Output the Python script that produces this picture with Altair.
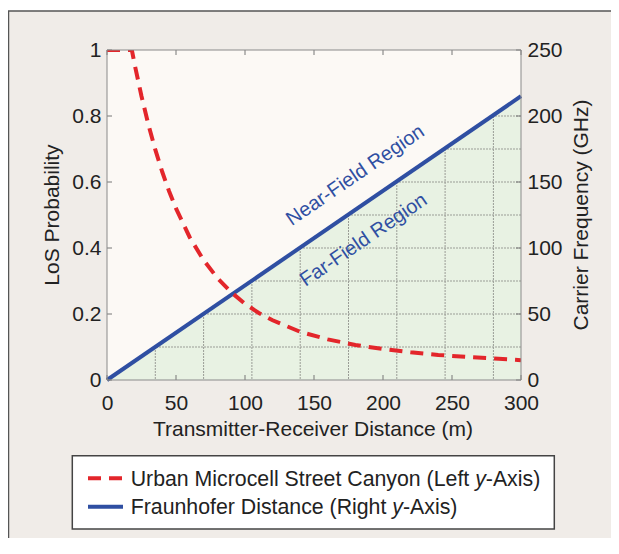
import altair as alt
import pandas as pd

# ---- data ----
los_dist = [0, 18, 20, 25, 30, 35, 40, 45, 50, 60, 70, 80, 90, 100, 110, 120,
            140, 160, 180, 200, 220, 240, 260, 280, 300]
los_prob = [1.0, 1.0, 0.957, 0.860, 0.774, 0.698, 0.631, 0.572, 0.520, 0.432,
            0.363, 0.309, 0.266, 0.231, 0.203, 0.181, 0.146, 0.123, 0.106,
            0.094, 0.084, 0.076, 0.070, 0.065, 0.060]
fr_dist = [0, 300]
fr_ghz = [0, 215]
grid_dist = [35, 70, 105, 140, 175, 210, 245, 280]
grid_ghz = [25, 50, 75, 100, 125, 150, 175, 200]
dist_ticks = [0, 50, 100, 150, 200, 250, 300]
prob_ticks = [0, 0.2, 0.4, 0.6, 0.8, 1]
ghz_ticks = [0, 50, 100, 150, 200, 250]
region_labels = ["Near-Field Region", "Far-Field Region"]
region_dist = [180, 186]
region_ghz = [155, 106]
legend_pre = ["Urban Microcell Street Canyon (Left", "Fraunhofer Distance (Right"]
legend_it = ["y", "y"]
legend_post = ["-Axis)", "-Axis)"]

# ---- styles ----
W, H = 414, 330
FONT = "Liberation Sans"
RED = "#e3262b"
BLUE = "#2f4fa2"
TXT = "#222222"
FRAME_BG = "#f0ece8"
PLOT_BG = "#fcf9f5"
GREEN = "#e8f2e3"
GRID = "#9a9d96"
TICK = "#777777"

df_los = pd.DataFrame({"dist": los_dist, "prob": los_prob})
df_fr = pd.DataFrame({"dist": fr_dist, "ghz": fr_ghz, "top": [250] * len(fr_dist)})
df_gx = pd.DataFrame({"dist": grid_dist})
df_gy = pd.DataFrame({"ghz": grid_ghz})
df_xt = pd.DataFrame({"dist": dist_ticks})
df_pt = pd.DataFrame({"prob": prob_ticks})
df_gt = pd.DataFrame({"ghz": ghz_ticks})
df_reg = pd.DataFrame({"dist": region_dist, "ghz": region_ghz, "label": region_labels})
one = pd.DataFrame({"k": [0]})

x_scale = alt.Scale(domain=[0, 300], nice=False, zero=False)
prob_scale = alt.Scale(domain=[0, 1], nice=False)
ghz_scale = alt.Scale(domain=[0, 250], nice=False)

common_axis = dict(title=None, ticks=False, domain=False, grid=False,
                   labelFontSize=21, labelFont=FONT, labelColor=TXT,
                   labelFlush=False, labelOverlap=False, zindex=1)
x_axis = alt.Axis(values=dist_ticks, labelPadding=12, **common_axis)
prob_axis = alt.Axis(orient="left", values=prob_ticks, format="~g", labelPadding=6, **common_axis)
ghz_axis = alt.Axis(orient="right", values=ghz_ticks, labelPadding=6, **common_axis)


def X(f):
    return alt.X(f, type="quantitative", scale=x_scale, axis=x_axis)


def YP(f):
    return alt.Y(f, type="quantitative", scale=prob_scale, axis=prob_axis)


def YG(f):
    return alt.Y(f, type="quantitative", scale=ghz_scale, axis=ghz_axis)


# ---- background frame and plot area ----
frame = alt.Chart(one).mark_rect(fill=FRAME_BG, stroke="#555555", strokeWidth=1.5).encode(
    x=alt.value(-98.5), x2=alt.value(700), y=alt.value(-39), y2=alt.value(700))
plot_bg = alt.Chart(one).mark_rect(fill=PLOT_BG).encode(
    x=alt.value(0), x2=alt.value(W), y=alt.value(0), y2=alt.value(H))

# ---- right-axis group (Fraunhofer) ----
green = alt.Chart(df_fr).mark_area(color=GREEN).encode(x=X("dist"), y=YG("ghz"))
vgrid = alt.Chart(df_gx).mark_rule(color=GRID, strokeWidth=1, strokeDash=[2, 1]).encode(x=X("dist"))
hgrid = alt.Chart(df_gy).mark_rule(color=GRID, strokeWidth=1, strokeDash=[2, 1]).encode(y=YG("ghz"))
cover = alt.Chart(df_fr).mark_area(color=PLOT_BG).encode(x=X("dist"), y=YG("ghz"), y2=alt.Y2("top"))
blue_line = alt.Chart(df_fr).mark_line(color=BLUE, strokeWidth=4).encode(x=X("dist"), y=YG("ghz"))
region_text = alt.Chart(df_reg).mark_text(
    angle=325.6, fontSize=20, font=FONT, color=BLUE, align="center", baseline="middle"
).encode(x=X("dist"), y=YG("ghz"), text="label:N")
top_ticks = alt.Chart(df_xt).mark_rule(color=TICK).encode(x=X("dist"), y=alt.value(0), y2=alt.value(5))
bot_ticks = alt.Chart(df_xt).mark_rule(color=TICK).encode(x=X("dist"), y=alt.value(H - 5), y2=alt.value(H))
right_ticks = alt.Chart(df_gt).mark_rule(color=TICK).encode(y=YG("ghz"), x=alt.value(W - 5), x2=alt.value(W))
right_group = alt.layer(green, vgrid, hgrid, cover, blue_line, region_text,
                        top_ticks, bot_ticks, right_ticks)

# ---- left-axis group (LoS probability) ----
red_line = alt.Chart(df_los).mark_line(
    color=RED, strokeWidth=4, strokeDash=[13, 8], clip=True
).encode(x=X("dist"), y=YP("prob"))
left_ticks = alt.Chart(df_pt).mark_rule(color=TICK).encode(y=YP("prob"), x=alt.value(0), x2=alt.value(5))
left_group = alt.layer(left_ticks, red_line)

border = alt.Chart(one).mark_rect(fillOpacity=0, stroke="#8a8a8a", strokeWidth=1).encode(
    x=alt.value(0), x2=alt.value(W), y=alt.value(0), y2=alt.value(H))

# ---- axis titles ----
tstyle = dict(fontSize=21, font=FONT, color=TXT, align="center")
x_title = alt.Chart(one).mark_text(text="Transmitter-Receiver Distance (m)", baseline="alphabetic", **tstyle).encode(
    x=alt.value(206), y=alt.value(386))
l_title = alt.Chart(one).mark_text(text="LoS Probability", angle=270, baseline="middle", **tstyle).encode(
    x=alt.value(-54), y=alt.value(165))
r_title = alt.Chart(one).mark_text(text="Carrier Frequency (GHz)", angle=270, baseline="middle", **tstyle).encode(
    x=alt.value(475), y=alt.value(165))

# ---- legend ----
leg_box = alt.Chart(one).mark_rect(fill="white", stroke="#444444", strokeWidth=1.5).encode(
    x=alt.value(-34.7), x2=alt.value(447.3), y=alt.value(405.7), y2=alt.value(479))
leg_red = alt.Chart(one).mark_rule(color=RED, strokeWidth=4, strokeDash=[13, 8]).encode(
    x=alt.value(-19), x2=alt.value(16), y=alt.value(428.3))
leg_blue = alt.Chart(one).mark_rule(color=BLUE, strokeWidth=4).encode(
    x=alt.value(-19), x2=alt.value(16), y=alt.value(456.7))

FS = 21.3
pre_w = [16.172 * FS, 12.282 * FS]   # text width including the following space
y_w = 0.5 * FS
leg_texts = []
for i, yb in enumerate([435.7, 464.0]):
    x0 = 23.7
    base = dict(fontSize=FS, font=FONT, color=TXT, baseline="alphabetic", align="left")
    leg_texts.append(alt.Chart(one).mark_text(text=legend_pre[i], **base).encode(
        x=alt.value(x0), y=alt.value(yb)))
    leg_texts.append(alt.Chart(one).mark_text(text=legend_it[i], fontStyle="italic", **base).encode(
        x=alt.value(x0 + pre_w[i]), y=alt.value(yb)))
    leg_texts.append(alt.Chart(one).mark_text(text=legend_post[i], **base).encode(
        x=alt.value(x0 + pre_w[i] + y_w), y=alt.value(yb)))

chart = alt.layer(
    frame, plot_bg, right_group, left_group, border, x_title, l_title, r_title,
    leg_box, leg_red, leg_blue, *leg_texts
).resolve_scale(y="independent").properties(
    width=W, height=H,
    autosize=alt.AutoSizeParams(type="none"),
    padding={"left": 99, "top": 42, "right": 90, "bottom": 158},
    background="white",
).configure_view(stroke="transparent")

chart.save("out.html", embed_options={"renderer": "svg", "actions": False})
